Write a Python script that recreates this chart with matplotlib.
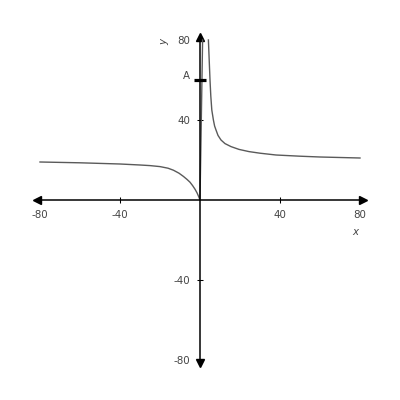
import matplotlib
matplotlib.use("Agg")
import matplotlib.pyplot as plt

# Data
left_x = [-80, -70, -60, -50, -40, -30, -25, -20, -16, -13.3, -10.5, -8.3,
          -6.5, -5, -3.7, -2.5, -1.5, -0.7, 0, 1.3]
left_y = [19, 18.8, 18.6, 18.3, 18, 17.5, 17.2, 16.7, 15.9, 14.9, 13.4, 11.8,
          10.3, 8.9, 7.2, 5.4, 3.6, 1.8, 0, 80]
right_x = [4.2, 4.4, 4.6, 4.8, 5.0, 5.4, 5.9, 6.7, 7.3, 8.0, 9.0, 10.5, 12.5,
           15.5, 19.5, 24.5, 30, 38, 50, 60, 80]
right_y = [80, 75, 70, 65, 60, 52, 45, 40, 37, 35, 32.3, 30, 28.2,
           26.7, 25.3, 24.2, 23.4, 22.5, 21.9, 21.5, 21]
x_ticks = [-80, -40, 40, 80]
x_tick_labels = ["-80", "-40", "40", "80"]
y_ticks = [-80, -40, 40, 80]
y_tick_labels = ["-80", "-40", "40", "80"]
a_value = 60
a_label = "A"

fig = plt.figure(figsize=(4, 4), dpi=100)
ax = fig.add_axes([0, 0, 1, 1])
ax.set_xlim(-100, 100)
ax.set_ylim(-100, 100)

for s in ["top", "right"]:
    ax.spines[s].set_visible(False)
ax.spines["left"].set_position(("data", 0))
ax.spines["bottom"].set_position(("data", 0))
ax.spines["left"].set_bounds(-82, 82)
ax.spines["bottom"].set_bounds(-82, 82)
ax.spines["left"].set_linewidth(1.1)
ax.spines["bottom"].set_linewidth(1.1)

ax.set_xticks(x_ticks)
ax.set_xticklabels(x_tick_labels)
ax.set_yticks(y_ticks)
ax.set_yticklabels(y_tick_labels)
ax.tick_params(direction="inout", length=4.3, width=0.75, pad=5,
               labelsize=7.4, labelcolor="#444444", color="black")

# arrow heads
ax.plot([-81.7], [0], marker="<", ms=6, color="black", clip_on=False)
ax.plot([81.7], [0], marker=">", ms=6, color="black", clip_on=False)
ax.plot([0], [81.7], marker="^", ms=6, color="black", clip_on=False)
ax.plot([0], [-81.7], marker="v", ms=6, color="black", clip_on=False)

# curve
ax.plot(left_x, left_y, color="#5a5a5a", lw=1.0, solid_joinstyle="round")
ax.plot(right_x, right_y, color="#5a5a5a", lw=1.0, solid_joinstyle="round")

# A marker
ax.plot([0], [a_value], marker="_", ms=9, mew=2.3, color="black")
ax.text(-7, a_value + 2, a_label, fontsize=7.4, color="#444444",
        ha="center", va="center")

# axis labels
ax.text(77.8, -16, "x", fontsize=7.4, style="italic", color="#444444",
        ha="center", va="center")
ax.text(-18, 79, "y", fontsize=7.4, style="italic", color="#444444",
        ha="center", va="center", rotation=90)

fig.savefig("out.png", dpi=100)
